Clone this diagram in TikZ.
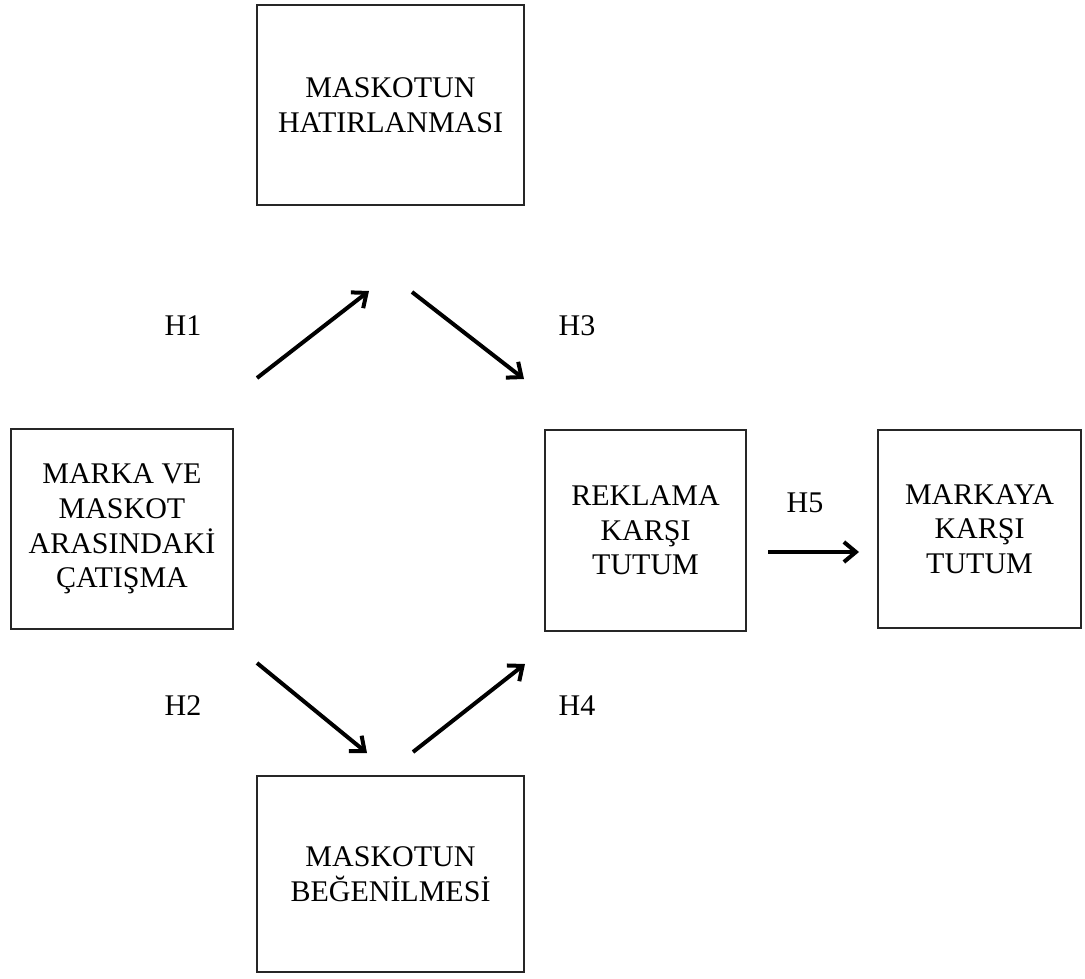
\documentclass[tikz,border=0pt]{standalone}
\usepackage{fontspec}
\setmainfont{Liberation Serif}
\usetikzlibrary{arrows.meta}

\tikzset{every picture/.style={line width=0.75pt}}
\tikzset{
	varbox/.style={draw=black!85, line width=1.5pt, align=center, inner sep=0pt,
		font=\fontsize{22.5}{26}\selectfont},
	hlabel/.style={font=\fontsize{22.5}{26}\selectfont, inner sep=0pt},
	hyparrow/.style={line width=3pt, -{Straight Barb[length=9pt,width=15pt]}}}

\begin{document}
\begin{tikzpicture}[x=0.75pt,y=0.75pt,yscale=-1,xscale=1]
	\useasboundingbox (0,0) rectangle (1085,978);

	% Boxes
	\node [varbox, minimum width=200.25pt, minimum height=150pt] (recall) at (390.5,105) {MASKOTUN\\HATIRLANMASI};
	\node [varbox, minimum width=166.5pt, minimum height=150pt] (conflict) at (122,529) {MARKA VE\\MASKOT\\ARASINDAK\.I\\ÇATIŞMA};
	\node [varbox, minimum width=150.75pt, minimum height=150.75pt] (adatt) at (645.5,530.5) {REKLAMA\\KARŞI\\TUTUM};
	\node [varbox, minimum width=152.25pt, minimum height=148.5pt] (brandatt) at (979.5,529) {MARKAYA\\KARŞI\\TUTUM};
	\node [varbox, minimum width=200.25pt, minimum height=147pt] (liking) at (390.5,874) {MASKOTUN\\BE\u{G}EN\.ILMES\.I};

	% Arrow ends
	\coordinate (h1s) at (257,378);
	\coordinate (h1e) at (369,291);
	\coordinate (h3s) at (412,292);
	\coordinate (h3e) at (524,379);
	\coordinate (h2s) at (257,663);
	\coordinate (h2e) at (367,753);
	\coordinate (h4s) at (413,752);
	\coordinate (h4e) at (525,664);
	\coordinate (h5s) at (768,552);
	\coordinate (h5e) at (859,552);

	% Arrows
	\draw [hyparrow] (h1s) -- (h1e);
	\draw [hyparrow] (h3s) -- (h3e);
	\draw [hyparrow] (h2s) -- (h2e);
	\draw [hyparrow] (h4s) -- (h4e);
	\draw [hyparrow] (h5s) -- (h5e);

	% Labels
	\node [hlabel] (h1) at (183,326) {H1};
	\node [hlabel] (h3) at (577,326) {H3};
	\node [hlabel] (h2) at (183,706) {H2};
	\node [hlabel] (h4) at (577,706) {H4};
	\node [hlabel] (h5) at (805,503) {H5};

\end{tikzpicture}
\end{document}
